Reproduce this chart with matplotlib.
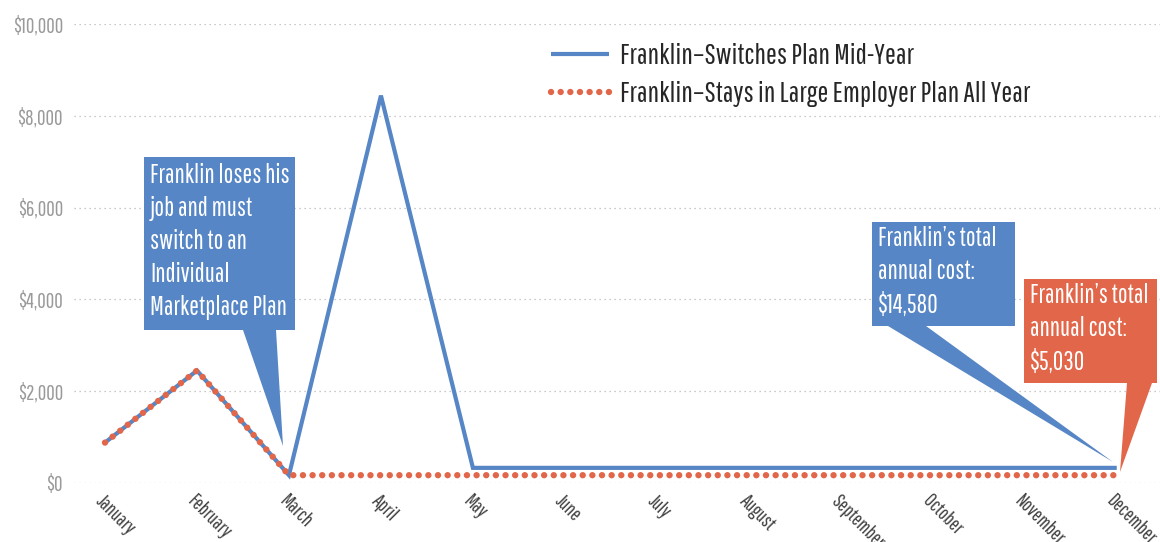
import matplotlib
matplotlib.use("Agg")
import matplotlib.pyplot as plt
from matplotlib.patches import Polygon
from matplotlib.ticker import FuncFormatter

plt.rcParams['font.family'] = ['Pathway Gothic One', 'Roboto Condensed', 'Barlow Condensed', 'DejaVu Sans']

months = ["January", "February", "March", "April", "May", "June", "July",
          "August", "September", "October", "November", "December"]
switches = [880, 2450, 170, 8440, 330, 330, 330, 330, 330, 330, 330, 330]
stays = [880, 2450, 170, 170, 170, 170, 170, 170, 170, 170, 170, 170]
label_switch = "Franklin\u2013Switches Plan Mid-Year"
label_stay = "Franklin\u2013Stays in Large Employer Plan All Year"
note_switch = "Franklin loses his\njob and must\nswitch to an\nIndividual\nMarketplace Plan"
note_total_switch = "Franklin\u2019s total\nannual cost:\n$14,580"
note_total_stay = "Franklin\u2019s total\nannual cost:\n$5,030"

blue = "#5686C5"
orange = "#E2674A"

W, H = 1160, 542
fig = plt.figure(figsize=(W / 100, H / 100), dpi=100)
ax = fig.add_axes([74 / W, 59 / H, 1086 / W, 459 / H])

x = list(range(len(months)))
ax.plot(x, switches, color=blue, lw=3, solid_capstyle='butt', solid_joinstyle='miter',
        label=label_switch, zorder=3)
ax.plot(x, stays, color=orange, lw=4.6, linestyle=(0, (0.01, 1.5)),
        dash_capstyle='round', label=label_stay, zorder=4)

ax.set_xlim(-0.337, 11.47)
ax.set_ylim(0, 10000)
ax.set_yticks(range(0, 10001, 2000))
ax.yaxis.set_major_formatter(FuncFormatter(lambda v, p: "${:,.0f}".format(v)))
ax.set_xticks(x)
ax.set_xticklabels(months, rotation=-45, ha='left', va='top', rotation_mode='anchor',
                   fontsize=14, color='#404040')
ax.tick_params(axis='y', labelsize=15, labelcolor='#9a9a9a', length=0, pad=8)
ax.tick_params(axis='x', length=0, pad=6)
for s in ax.spines.values():
    s.set_visible(False)
ax.grid(axis='y', color='#b8b8b8', linestyle=(0, (1, 3)), lw=0.9)
ax.set_axisbelow(True)

leg = ax.legend(loc='upper left', bbox_to_anchor=(525 / W, 1 - 17 / H),
                bbox_transform=fig.transFigure, frameon=False, fontsize=20.8,
                handlelength=2.0, handletextpad=0.38, labelspacing=0.42)
for t in leg.get_texts():
    t.set_color('#262626')


def px(pts):
    return [(a / W, 1 - b / H) for a, b in pts]


callouts = [
    ([(144, 157), (295, 157), (295, 330), (276, 330), (283, 446), (243, 330), (144, 330)],
     blue, (150, 163), note_switch),
    ([(872, 222), (1015, 222), (1015, 326), (926, 326), (1113, 462), (888, 326), (872, 326)],
     blue, (878, 226), note_total_switch),
    ([(1024, 279), (1157, 279), (1157, 383), (1152, 383), (1120, 472), (1127, 383), (1024, 383)],
     orange, (1030, 283), note_total_stay),
]
for pts, c, (tx, ty), txt in callouts:
    fig.add_artist(Polygon(px(pts), closed=True, facecolor=c, edgecolor='none',
                           transform=fig.transFigure, zorder=5))
    fig.text(tx / W, 1 - ty / H, txt, color='white', fontsize=18.5, ha='left', va='top',
             linespacing=1.4, zorder=6)

fig.savefig("out.png", dpi=100)
